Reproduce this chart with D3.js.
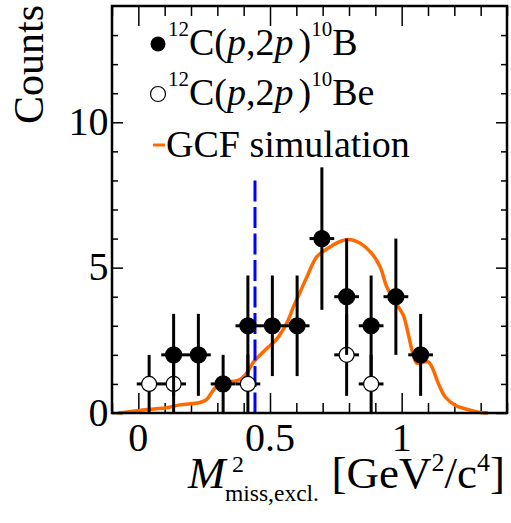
<!DOCTYPE html>
<html>
<head>
<meta charset="utf-8">
<script src="https://cdn.jsdelivr.net/npm/d3@7"></script>
<style>
  body { margin: 0; background: #fff; }
  svg { display: block; font-family: "Liberation Serif", "Times New Roman", serif; }
</style>
</head>
<body>
<svg id="chart" width="511" height="523"></svg>
<script>
// 12C(p,2p)10B, filled points
var bX   = [0.134, 0.228, 0.322, 0.416, 0.509, 0.603, 0.697, 0.791, 0.884, 0.978, 1.072];
var bY   = [2, 2, 1, 3, 3, 3, 6, 4, 3, 4, 2];
var bErr = [1.41, 1.41, 1, 1.73, 1.73, 1.73, 2.45, 2, 1.73, 2, 1.41];
// 12C(p,2p)10Be, open points
var eX   = [0.041, 0.134, 0.416, 0.791, 0.884];
var eY   = [1, 1, 1, 2, 1];
var eErr = [1, 1, 1, 1.41, 1];
var binHalf = 0.047;
// GCF simulation curve
var gcfX = [-0.076, -0.05, 0.006, 0.06, 0.108, 0.158, 0.234, 0.26, 0.285, 0.304, 0.336, 0.386, 0.412,
            0.437, 0.475, 0.526, 0.564, 0.589, 0.614, 0.64, 0.678, 0.716, 0.76, 0.798, 0.842, 0.886,
            0.918, 0.943, 0.969, 1.006, 1.019, 1.044, 1.057, 1.076, 1.101, 1.12, 1.139, 1.165, 1.203,
            1.247, 1.298, 1.328];
var gcfY = [0, 0.03, 0.09, 0.14, 0.18, 0.28, 0.36, 0.47, 0.79, 0.96, 1.05, 1.15, 1.38,
            1.75, 2.11, 2.55, 3.1, 3.65, 4.15, 4.68, 5.38, 5.64, 5.88, 5.97, 5.84, 5.49,
            5.03, 4.35, 3.9, 3.37, 2.95, 2.0, 1.72, 1.73, 1.76, 1.48, 1.02, 0.56, 0.27,
            0.13, 0.02, 0];
var cutX = 0.443, cutTop = 8;

var xMajor = [0, 0.5, 1];
var xMinor = [-0.1, 0.1, 0.2, 0.3, 0.4, 0.6, 0.7, 0.8, 0.9, 1.1, 1.2, 1.3, 1.4];
var yMajor = [0, 5, 10];
var yMinor = [1, 2, 3, 4, 6, 7, 8, 9, 11, 12, 13];

var svg = d3.select("#chart");
var L = 112, R = 507, T = 6, B = 413;
var x = d3.scaleLinear().domain([-0.1, 1.4]).range([L, R]);
var y = d3.scaleLinear().domain([0, 14]).range([B, T]);

var orange = "#ff6a00";

// ticks (inside, on all four sides)
function ticks(axis, vals, size, tr) {
  var g = svg.append("g").attr("transform", tr)
    .call(axis.tickValues(vals).tickSize(size).tickFormat(""));
  g.select(".domain").remove();
  g.selectAll("line").attr("stroke", "#000").attr("stroke-width", 1.5);
  return g;
}
ticks(d3.axisBottom(x), xMinor, -10, "translate(0," + B + ")");
ticks(d3.axisBottom(x), xMajor, -20, "translate(0," + B + ")");
ticks(d3.axisTop(x), xMinor, -10, "translate(0," + T + ")");
ticks(d3.axisTop(x), xMajor, -20, "translate(0," + T + ")");
ticks(d3.axisLeft(y), yMinor, -6, "translate(" + L + ",0)");
ticks(d3.axisLeft(y), yMajor, -11, "translate(" + L + ",0)");
ticks(d3.axisRight(y), yMinor, -6, "translate(" + R + ",0)");
ticks(d3.axisRight(y), yMajor, -11, "translate(" + R + ",0)");

// tick labels
svg.selectAll(".xl").data(xMajor).enter().append("text")
  .attr("x", function(d) { return x(d); })
  .attr("y", 451)
  .attr("text-anchor", "middle")
  .attr("font-size", 40)
  .text(function(d) { return d3.format("")(d); });
svg.selectAll(".yl").data(yMajor).enter().append("text")
  .attr("x", 108.5)
  .attr("y", function(d) { return y(d) + 12.5; })
  .attr("text-anchor", "end")
  .attr("font-size", 40)
  .text(function(d) { return d; });

// axis titles
svg.append("text")
  .attr("transform", "translate(43,5) rotate(-90)")
  .attr("text-anchor", "end")
  .attr("font-size", 42)
  .text("Counts");

var xt = svg.append("g").attr("font-size", 45);
xt.append("text").attr("x", 188).attr("y", 488).attr("font-style", "italic").text("M");
xt.append("text").attr("x", 232).attr("y", 472).attr("font-size", 24).text("2");
xt.append("text").attr("x", 225).attr("y", 501).attr("font-size", 23.5).text("miss,excl.");
var unit = xt.append("text").attr("x", 505).attr("y", 488).attr("text-anchor", "end");
unit.append("tspan").text("[GeV");
unit.append("tspan").attr("font-size", 26).attr("dy", -17).text("2");
unit.append("tspan").attr("dy", 17).text("/c");
unit.append("tspan").attr("font-size", 26).attr("dy", -17).text("4");
unit.append("tspan").attr("dy", 17).text("]");

var plot = svg.append("g");

// GCF curve
var line = d3.line()
  .x(function(d) { return x(d[0]); })
  .y(function(d) { return y(d[1]); })
  .curve(d3.curveCatmullRom.alpha(0.5));
plot.append("path")
  .datum(d3.zip(gcfX, gcfY))
  .attr("d", line)
  .attr("fill", "none")
  .attr("stroke", orange)
  .attr("stroke-width", 3.5);

// cut line
plot.append("line")
  .attr("x1", x(cutX)).attr("x2", x(cutX))
  .attr("y1", y(cutTop)).attr("y2", y(0))
  .attr("stroke", "#0000ff")
  .attr("stroke-width", 3)
  .attr("stroke-dasharray", "21,5.5");

function points(xs, ys, errs, fill) {
  var g = plot.append("g");
  xs.forEach(function(cx, i) {
    var v = ys[i], e = errs[i];
    g.append("line")
      .attr("x1", x(cx)).attr("x2", x(cx))
      .attr("y1", y(Math.max(0, v - e))).attr("y2", y(v + e))
      .attr("stroke", "#000").attr("stroke-width", 3);
    g.append("line")
      .attr("x1", x(cx - binHalf)).attr("x2", x(cx + binHalf))
      .attr("y1", y(v)).attr("y2", y(v))
      .attr("stroke", "#000").attr("stroke-width", 3);
  });
  g.selectAll("circle").data(xs).enter().append("circle")
    .attr("cx", function(d) { return x(d); })
    .attr("cy", function(d, i) { return y(ys[i]); })
    .attr("r", fill === "#000" ? 8 : 7.5)
    .attr("fill", fill)
    .attr("stroke", "#000")
    .attr("stroke-width", 1.2);
}
points(eX, eY, eErr, "#fff");
points(bX, bY, bErr, "#000");

// frame
svg.append("rect")
  .attr("x", L).attr("y", T)
  .attr("width", R - L).attr("height", B - T)
  .attr("fill", "none").attr("stroke", "#000").attr("stroke-width", 2.5);

// legend
var lg = svg.append("g").attr("font-size", 38);
lg.append("circle").attr("cx", 158).attr("cy", 44).attr("r", 7.5).attr("fill", "#000");
lg.append("circle").attr("cx", 158).attr("cy", 94).attr("r", 7.5).attr("fill", "#fff")
  .attr("stroke", "#000").attr("stroke-width", 1.2);
lg.append("line").attr("x1", 153).attr("x2", 165).attr("y1", 145).attr("y2", 145)
  .attr("stroke", orange).attr("stroke-width", 3);

function reaction(yb, nucleus) {
  var t = lg.append("text").attr("x", 168).attr("y", yb);
  t.append("tspan").attr("font-size", 21).attr("dy", -19).text("12");
  t.append("tspan").attr("dy", 19).text("C(");
  t.append("tspan").attr("font-style", "italic").text("p");
  t.append("tspan").text(",2");
  t.append("tspan").attr("font-style", "italic").text("p");
  t.append("tspan").attr("dx", 5).text(")");
  t.append("tspan").attr("font-size", 21).attr("dy", -19).text("10");
  t.append("tspan").attr("dy", 19).text(nucleus);
}
reaction(55, "B");
reaction(105, "Be");
lg.append("text").attr("x", 166).attr("y", 157).text("GCF simulation");
</script>
</body>
</html>
